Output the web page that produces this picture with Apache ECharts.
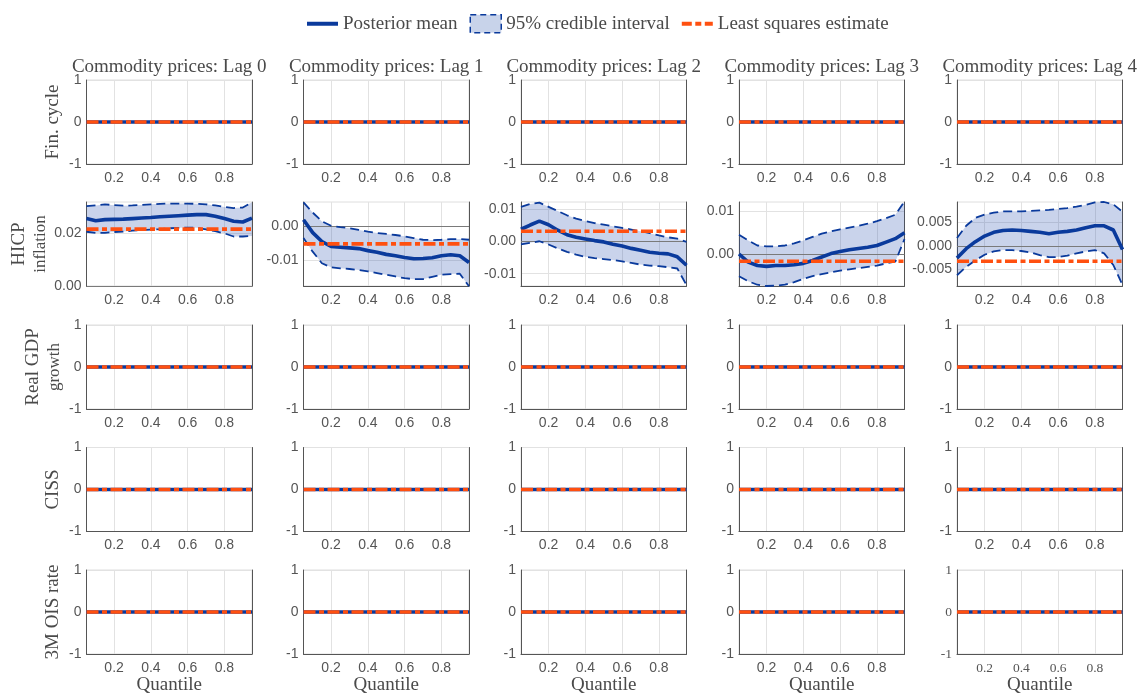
<!DOCTYPE html>
<html>
<head>
<meta charset="utf-8">
<script src="https://cdn.jsdelivr.net/npm/echarts@6.0.0/dist/echarts.min.js"></script>
<style>
html,body{margin:0;padding:0;background:#fff;overflow:hidden;}
#chart{width:1142px;height:696px;}
</style>
</head>
<body>
<div id="chart"></div>
<script>
// ---------------- data ----------------
const quantiles = [0.05,0.10,0.15,0.20,0.25,0.30,0.35,0.40,0.45,0.50,0.55,0.60,0.65,0.70,0.75,0.80,0.85,0.90,0.95];
const colTitles = ['Commodity prices: Lag 0','Commodity prices: Lag 1','Commodity prices: Lag 2','Commodity prices: Lag 3','Commodity prices: Lag 4'];
const rowNames = ['Fin. cycle', 'HICP|inflation', 'Real GDP|growth', 'CISS', '3M OIS rate'];
const xTicks = [0.2, 0.4, 0.6, 0.8];
const constYTicks = [-1, 0, 1];
const zeros = [0,0,0,0,0,0,0,0,0,0,0,0,0,0,0,0,0,0,0];

const hicpMeanLag0  = [0.0256,0.0248,0.0252,0.0253,0.0254,0.0256,0.0258,0.0260,0.0263,0.0265,0.0267,0.0269,0.0271,0.0271,0.0265,0.0256,0.0246,0.0243,0.0258];
const hicpUpperLag0 = [0.0303,0.0306,0.0310,0.0307,0.0305,0.0306,0.0308,0.0310,0.0312,0.0313,0.0313,0.0313,0.0312,0.0310,0.0306,0.0300,0.0296,0.0298,0.0318];
const hicpLowerLag0 = [0.0206,0.0202,0.0202,0.0205,0.0207,0.0210,0.0212,0.0214,0.0216,0.0219,0.0221,0.0222,0.0221,0.0215,0.0208,0.0200,0.0188,0.0188,0.0190];

const hicpMeanLag1  = [0.0020,-0.0018,-0.0044,-0.0059,-0.0061,-0.0063,-0.0065,-0.0071,-0.0076,-0.0082,-0.0086,-0.0091,-0.0095,-0.0094,-0.0092,-0.0086,-0.0083,-0.0086,-0.0106];
const hicpUpperLag1 = [0.0071,0.0041,0.0015,0.0002,-0.0002,-0.0005,-0.0010,-0.0015,-0.0019,-0.0022,-0.0025,-0.0029,-0.0034,-0.0039,-0.0040,-0.0039,-0.0037,-0.0037,-0.0039];
const hicpLowerLag1 = [-0.0034,-0.0074,-0.0108,-0.0120,-0.0123,-0.0125,-0.0128,-0.0132,-0.0137,-0.0142,-0.0147,-0.0152,-0.0155,-0.0155,-0.0148,-0.0142,-0.0140,-0.0139,-0.0176];

const hicpMeanLag2  = [0.0037,0.0050,0.0062,0.0051,0.0034,0.0020,0.0012,0.0007,0.0002,-0.0002,-0.0009,-0.0015,-0.0022,-0.0028,-0.0034,-0.0037,-0.0039,-0.0048,-0.0074];
const hicpUpperLag2 = [0.0106,0.0115,0.0119,0.0106,0.0093,0.0080,0.0070,0.0062,0.0056,0.0051,0.0046,0.0041,0.0036,0.0031,0.0025,0.0018,0.0012,0.0008,-0.0002];
const hicpLowerLag2 = [-0.0010,-0.0005,0.0000,-0.0010,-0.0022,-0.0033,-0.0041,-0.0048,-0.0052,-0.0055,-0.0058,-0.0062,-0.0067,-0.0072,-0.0075,-0.0077,-0.0080,-0.0084,-0.0135];

const hicpMeanLag3  = [0.0000,-0.0019,-0.0027,-0.0029,-0.0027,-0.0027,-0.0025,-0.0022,-0.0015,-0.0007,0.0001,0.0006,0.0010,0.0013,0.0016,0.0020,0.0028,0.0036,0.0050];
const hicpUpperLag3 = [0.0045,0.0032,0.0020,0.0018,0.0018,0.0020,0.0025,0.0032,0.0040,0.0048,0.0053,0.0058,0.0062,0.0066,0.0071,0.0077,0.0084,0.0092,0.0123];
const hicpLowerLag3 = [-0.0052,-0.0064,-0.0072,-0.0075,-0.0074,-0.0072,-0.0066,-0.0058,-0.0052,-0.0047,-0.0043,-0.0039,-0.0036,-0.0033,-0.0030,-0.0027,-0.0022,-0.0018,0.0035];

const hicpMeanLag4  = [-0.0026,-0.0006,0.0009,0.0021,0.0029,0.0033,0.0034,0.0033,0.0031,0.0029,0.0026,0.0029,0.0031,0.0034,0.0039,0.0043,0.0043,0.0034,-0.0008];
const hicpUpperLag4 = [0.0017,0.0043,0.0060,0.0067,0.0071,0.0074,0.0074,0.0074,0.0075,0.0076,0.0077,0.0079,0.0081,0.0084,0.0088,0.0093,0.0094,0.0089,0.0073];
const hicpLowerLag4 = [-0.0063,-0.0045,-0.0031,-0.0019,-0.0012,-0.0009,-0.0009,-0.0011,-0.0014,-0.0020,-0.0024,-0.0024,-0.0021,-0.0016,-0.0012,-0.0009,-0.0016,-0.0041,-0.0084];

const hicpLS = [0.0216, -0.0051, 0.0031, -0.0017, -0.0033];
const hicpYMin = [0, -0.0175, -0.0138, -0.0075, -0.0086];
const hicpYMax = [0.0319, 0.0072, 0.0121, 0.0122, 0.0094];
const hicpYTicks = [[0, 0.02], [-0.01, 0], [-0.01, 0, 0.01], [0, 0.01], [-0.005, 0, 0.005]];

const hicpMean  = [hicpMeanLag0, hicpMeanLag1, hicpMeanLag2, hicpMeanLag3, hicpMeanLag4];
const hicpUpper = [hicpUpperLag0, hicpUpperLag1, hicpUpperLag2, hicpUpperLag3, hicpUpperLag4];
const hicpLower = [hicpLowerLag0, hicpLowerLag1, hicpLowerLag2, hicpLowerLag3, hicpLowerLag4];

// ---------------- layout / style ----------------
const colLeft = [86.5, 303.5, 521, 739, 957];
const panelW = 165.5;
const rowTop = [80, 202, 325, 447.5, 570];
const panelH = 84;
const hicpDecimals = [2, 2, 2, 2, 3];

const BLUE = '#0a3a9c';
const ORANGE = '#ff5010';
const BAND = 'rgba(30,70,170,0.24)';
const SANS = '"Liberation Sans", Arial, sans-serif';
const SERIF = '"Liberation Serif", "Times New Roman", serif';
const TXT = '#4a4a4a';
const TICK = '#555';

const grids = [], xAxes = [], yAxes = [], series = [], graphics = [];

function bandRender(lower, upper) {
  return function (params, api) {
    if (params.dataIndex !== 0) return null;
    const pts = [];
    for (let i = 0; i < quantiles.length; i++) pts.push(api.coord([quantiles[i], upper[i]]));
    for (let i = quantiles.length - 1; i >= 0; i--) pts.push(api.coord([quantiles[i], lower[i]]));
    return { type: 'polygon', shape: { points: pts }, style: { fill: BAND } };
  };
}

for (let r = 0; r < 5; r++) {
  for (let c = 0; c < 5; c++) {
    const gi = r * 5 + c;
    const isHicp = (r === 1);
    const lastPanel = (r === 4 && c === 4);
    const mean = isHicp ? hicpMean[c] : zeros;
    const upper = isHicp ? hicpUpper[c] : zeros;
    const lower = isHicp ? hicpLower[c] : zeros;
    const ls = isHicp ? hicpLS[c] : 0;
    const yTicks = isHicp ? hicpYTicks[c] : constYTicks;
    const dec = isHicp ? hicpDecimals[c] : 0;
    const tickFont = lastPanel ? SERIF : SANS;
    const tickSize = lastPanel ? 13.5 : 14;

    grids.push({
      left: colLeft[c], top: rowTop[r], width: panelW, height: panelH,
      show: true, borderColor: '#dedede', borderWidth: 1, backgroundColor: 'transparent'
    });

    const xa = {
      type: 'value', gridIndex: gi, min: 0.05, max: 0.95,
      axisLine: { onZero: false, lineStyle: { color: '#555', width: 1 } },
      axisTick: { show: false, customValues: xTicks },
      axisLabel: { customValues: xTicks, formatter: v => v.toFixed(1), fontFamily: tickFont, fontSize: tickSize, color: TICK, margin: 7 },
      splitLine: { show: true, lineStyle: { color: '#e2e2e2', width: 1 } }
    };
    if (r === 4) {
      xa.name = 'Quantile';
      xa.nameLocation = 'middle';
      xa.nameGap = 22;
      xa.nameTextStyle = { fontFamily: SERIF, fontSize: 19, color: TXT };
    }
    xAxes.push(xa);

    const ya = {
      type: 'value', gridIndex: gi,
      min: isHicp ? hicpYMin[c] : -1, max: isHicp ? hicpYMax[c] : 1,
      axisLine: { onZero: false, lineStyle: { color: '#555', width: 1 } },
      axisTick: { show: false, customValues: yTicks },
      axisLabel: { customValues: yTicks, formatter: v => (dec ? v.toFixed(dec) : String(Math.round(v))), fontFamily: tickFont, fontSize: tickSize, color: TICK, margin: 5 },
      splitLine: { show: true, lineStyle: { color: '#e2e2e2', width: 1 } }
    };
    if (c === 0) {
      const parts = rowNames[r].split('|');
      ya.name = parts.length > 1 ? '{a|' + parts[0] + '}\n{b|' + parts[1] + '}' : parts[0];
      ya.nameLocation = 'middle';
      ya.nameRotate = 90;
      ya.nameGap = parts.length > 1 ? 22 : 22;
      ya.nameTextStyle = {
        fontFamily: SERIF, fontSize: 19, color: TXT, lineHeight: 22,
        rich: { a: { fontFamily: SERIF, fontSize: 19, color: TXT, lineHeight: 22 }, b: { fontFamily: SERIF, fontSize: 17, color: TXT, lineHeight: 20 } }
      };
    }
    yAxes.push(ya);
    // right border axis
    yAxes.push({
      type: 'value', gridIndex: gi, position: 'right', min: -1, max: 1,
      axisLine: { show: true, onZero: false, lineStyle: { color: '#555', width: 1 } },
      axisTick: { show: false }, axisLabel: { show: false }, splitLine: { show: false }
    });
    const yIdx = yAxes.length - 2;

    series.push({
      type: 'custom', name: '95% credible interval', xAxisIndex: gi, yAxisIndex: yIdx,
      coordinateSystem: 'cartesian2d', clip: true, z: 1,
      itemStyle: { color: BAND },
      data: quantiles.map((q, i) => [q, lower[i], upper[i]]),
      renderItem: bandRender(lower, upper),
      silent: true,
      markLine: {
        silent: true, symbol: 'none', z: 2, animation: false,
        label: { show: false },
        lineStyle: { color: '#7a7a7a', width: 1, type: 'solid' },
        data: [{ yAxis: 0 }]
      }
    });
    series.push({
      type: 'line', name: 'upper', xAxisIndex: gi, yAxisIndex: yIdx, z: 3,
      symbol: 'none', silent: true, animation: false,
      lineStyle: { color: BLUE, width: 1.8, type: [9, 5] },
      data: quantiles.map((q, i) => [q, upper[i]])
    });
    series.push({
      type: 'line', name: 'lower', xAxisIndex: gi, yAxisIndex: yIdx, z: 3,
      symbol: 'none', silent: true, animation: false,
      lineStyle: { color: BLUE, width: 1.8, type: [9, 5] },
      data: quantiles.map((q, i) => [q, lower[i]])
    });
    series.push({
      type: 'line', name: 'Posterior mean', xAxisIndex: gi, yAxisIndex: yIdx, z: 4,
      symbol: 'none', silent: true, animation: false, color: BLUE,
      lineStyle: { color: BLUE, width: 3.6 },
      data: quantiles.map((q, i) => [q, mean[i]])
    });
    series.push({
      type: 'line', name: 'Least squares estimate', xAxisIndex: gi, yAxisIndex: yIdx, z: 5,
      symbol: 'none', silent: true, animation: false, color: ORANGE,
      lineStyle: { color: ORANGE, width: 3.6, type: [12, 3.5, 5, 3.5] },
      data: quantiles.map(q => [q, ls])
    });
  }
}

for (let c = 0; c < 5; c++) {
  graphics.push({
    type: 'text', x: colLeft[c] + panelW / 2, y: 67,
    style: { text: colTitles[c], font: '19px ' + SERIF, fill: TXT, textAlign: 'center', textVerticalAlign: 'middle' }
  });
}

const chart = echarts.init(document.getElementById('chart'), null, { renderer: 'canvas' });
chart.setOption({
  animation: false,
  backgroundColor: '#fff',
  legend: {
    left: 302, top: 9, itemWidth: 31, itemHeight: 18, itemGap: 12,
    textStyle: { fontFamily: SERIF, fontSize: 19, color: TXT },
    data: [
      { name: 'Posterior mean', icon: 'path://M0,0H31V4H0Z', itemStyle: { color: BLUE } },
      { name: '95% credible interval', icon: 'rect', itemStyle: { color: '#c8d3ea', borderColor: BLUE, borderWidth: 1.5, borderType: [6, 4] } },
      { name: 'Least squares estimate', icon: 'path://M0,0H10V4H0Z M13.5,0H19.5V4H13.5Z M23,0H31V4H23Z', itemStyle: { color: ORANGE } }
    ]
  },
  grid: grids,
  xAxis: xAxes,
  yAxis: yAxes,
  series: series,
  graphic: graphics
});
</script>
</body>
</html>
